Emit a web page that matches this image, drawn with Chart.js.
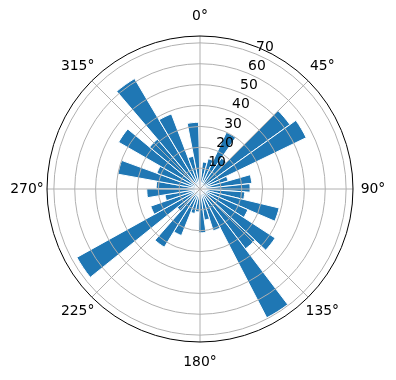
<!DOCTYPE html>
<html>
<head>
<meta charset="utf-8">
<script src="https://cdn.jsdelivr.net/npm/chart.js@4/dist/chart.umd.min.js"></script>
<style>
  html, body { margin: 0; padding: 0; background: #fff; }
  #wrap { width: 396px; height: 380px; }
</style>
</head>
<body>
<div id="wrap"><canvas id="rose"></canvas></div>
<script>
// histogram of directions: 36 bins spanning the data range (deg, clockwise from north)
const dirMin = 5.3;
const dirMax = 358.8;
const counts = [
    13, 15, 30, 18, 53, 56.5, 14, 25, 24, 21.5,
    39, 25, 43, 36, 69.5, 21, 15, 21, 11, 12,
    24, 32.7, 14, 67.5, 25, 17, 25.5, 21, 40, 22,
    45, 31.4, 61.5, 38.5, 16, 32
];
const radialTicks = [10, 20, 30, 40, 50, 60, 70];
const angleTicks = [0, 45, 90, 135, 180, 225, 270, 315];
const rMax = 73.3;

const binWidth = (dirMax - dirMin) / counts.length;
const FONT = '13.9px "DejaVu Sans"';

const polarFrame = {
    id: 'polarFrame',
    afterDatasetsDraw(chart) {
        const scale = chart.scales.r;
        const ctx = chart.ctx;
        const cx = scale.xCenter, cy = scale.yCenter, R = scale.drawingArea;
        const pt = (deg, r) => {
            const a = deg * Math.PI / 180;
            return [cx + r * Math.sin(a), cy - r * Math.cos(a)];
        };
        ctx.save();
        ctx.strokeStyle = '#b0b0b0';
        ctx.lineWidth = 1;
        radialTicks.forEach(v => {
            ctx.beginPath();
            ctx.arc(cx, cy, scale.getDistanceFromCenterForValue(v), 0, Math.PI * 2);
            ctx.stroke();
        });
        angleTicks.forEach(d => {
            const [x, y] = pt(d, R);
            ctx.beginPath();
            ctx.moveTo(cx, cy);
            ctx.lineTo(x, y);
            ctx.stroke();
        });
        ctx.strokeStyle = '#000';
        ctx.beginPath();
        ctx.arc(cx, cy, R, 0, Math.PI * 2);
        ctx.stroke();

        ctx.fillStyle = '#000';
        ctx.font = FONT;
        ctx.textAlign = 'center';
        ctx.textBaseline = 'middle';
        angleTicks.forEach(d => {
            const [x, y] = pt(d, R + 20);
            ctx.fillText(d + '°', x, y);
        });
        radialTicks.forEach(v => {
            const [x, y] = pt(22.5, scale.getDistanceFromCenterForValue(v));
            ctx.fillText(String(v), x + 9, y - 7);
        });
        ctx.restore();
    }
};

new Chart(document.getElementById('rose'), {
    type: 'polarArea',
    data: {
        labels: counts.map((c, i) => 'bin ' + (i + 1)),
        datasets: [{
            data: counts,
            angle: binWidth,
            backgroundColor: '#1f77b4',
            borderColor: '#ffffff',
            borderWidth: 1
        }]
    },
    options: {
        responsive: true,
        maintainAspectRatio: false,
        animation: false,
        layout: { padding: { left: 46, right: 42, top: 36, bottom: 37 } },
        plugins: { legend: { display: false }, tooltip: { enabled: false } },
        scales: {
            r: {
                min: 0,
                max: rMax,
                startAngle: dirMin,
                ticks: { display: false },
                grid: { display: false },
                angleLines: { display: false },
                pointLabels: { display: false }
            }
        }
    },
    plugins: [polarFrame]
});
</script>
</body>
</html>
